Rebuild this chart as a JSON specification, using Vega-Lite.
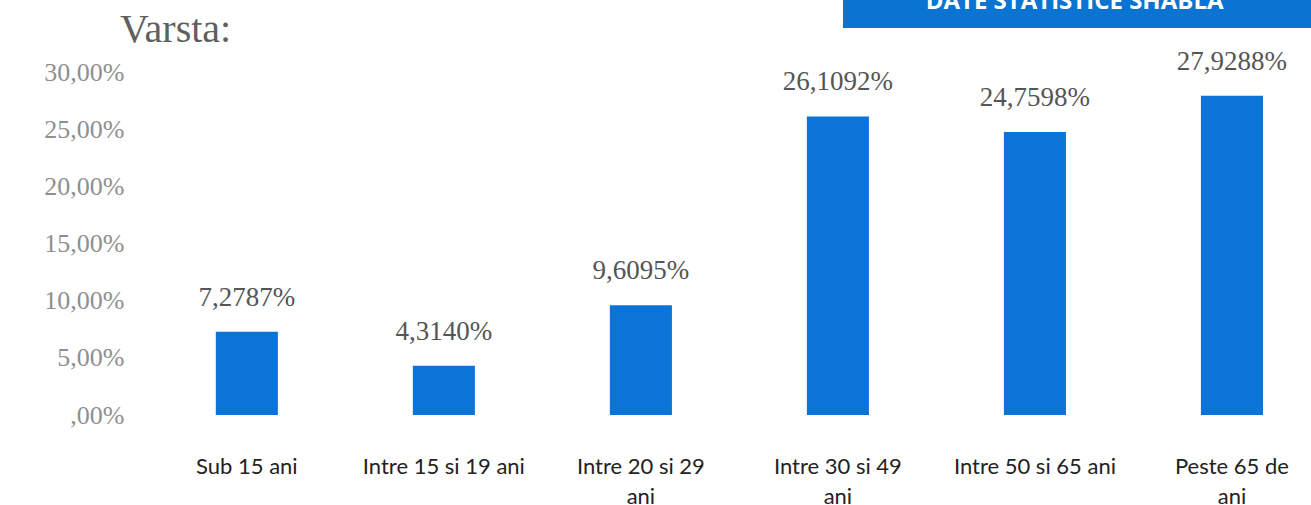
{
  "$schema": "https://vega.github.io/schema/vega-lite/v6.json",
  "width": 1150,
  "height": 343,
  "autosize": {"type": "none"},
  "padding": {"left": 150, "top": 72, "right": 11, "bottom": 90},
  "background": "white",
  "config": {
    "view": {"stroke": null},
    "locale": {"number": {"decimal": ",", "thousands": ".", "grouping": [3], "currency": ["", ""]}}
  },
  "layer": [
    {
      "data": {
        "values": [
          {"grupa": "Sub 15 ani", "procent": 0.072787},
          {"grupa": "Intre 15 si 19 ani", "procent": 0.04314},
          {"grupa": "Intre 20 si 29 ani", "procent": 0.096095},
          {"grupa": "Intre 30 si 49 ani", "procent": 0.261092},
          {"grupa": "Intre 50 si 65 ani", "procent": 0.247598},
          {"grupa": "Peste 65 de ani", "procent": 0.279288}
        ]
      },
      "encoding": {
        "x": {
          "field": "grupa",
          "type": "nominal",
          "sort": null,
          "scale": {"paddingInner": 0.685, "paddingOuter": 0.261, "align": 0.64},
          "axis": {
            "title": null,
            "labelAngle": 0,
            "domain": false,
            "ticks": false,
            "labelPadding": 41,
            "labelFont": "Lato",
            "labelFontSize": 22,
            "labelColor": "#222222",
            "labelLineHeight": 30,
            "labelExpr": "datum.label == 'Intre 20 si 29 ani' ? ['Intre 20 si 29', 'ani'] : datum.label == 'Intre 30 si 49 ani' ? ['Intre 30 si 49', 'ani'] : datum.label == 'Peste 65 de ani' ? ['Peste 65 de', 'ani'] : datum.label"
          }
        },
        "y": {
          "field": "procent",
          "type": "quantitative",
          "scale": {"domain": [0, 0.3], "nice": false},
          "axis": {
            "title": null,
            "values": [0, 0.05, 0.1, 0.15, 0.2, 0.25, 0.3],
            "format": ".2%",
            "labelExpr": "datum.value == 0 ? ',00%' : datum.label",
            "grid": false,
            "domain": false,
            "ticks": false,
            "labelPadding": 26,
            "labelFont": "Liberation Serif",
            "labelFontSize": 26,
            "labelColor": "#8f8f8f"
          }
        }
      },
      "layer": [
        {"mark": {"type": "bar", "color": "#0b74d6"}},
        {
          "mark": {"type": "text", "baseline": "bottom", "dy": -20, "font": "Liberation Serif", "fontSize": 27, "color": "#555555"},
          "encoding": {"text": {"field": "procent", "type": "quantitative", "format": ".4%"}}
        }
      ]
    },
    {
      "data": {"values": [{"eticheta": "DATE STATISTICE SHABLA", "titlu": "Varsta:"}]},
      "layer": [
        {
          "mark": {"type": "rect", "color": "#0b73d1"},
          "encoding": {
            "x": {"datum": 0.6026, "type": "quantitative", "scale": {"domain": [0, 1], "nice": false, "zero": false}, "axis": null},
            "x2": {"datum": 1.02},
            "y": {"datum": 1.128, "type": "quantitative", "scale": {"domain": [0, 1], "nice": false, "zero": false}, "axis": null},
            "y2": {"datum": 1.21}
          }
        },
        {
          "mark": {"type": "text", "baseline": "alphabetic", "align": "center", "font": "Open Sans", "fontWeight": "bold", "fontSize": 24, "color": "white"},
          "encoding": {
            "x": {"datum": 0.804, "type": "quantitative", "scale": {"domain": [0, 1], "nice": false, "zero": false}, "axis": null},
            "y": {"datum": 1.184, "type": "quantitative", "scale": {"domain": [0, 1], "nice": false, "zero": false}, "axis": null},
            "text": {"field": "eticheta"}
          }
        },
        {
          "mark": {"type": "text", "baseline": "alphabetic", "align": "left", "font": "Liberation Serif", "fontSize": 40, "color": "#5f5f5f"},
          "encoding": {
            "x": {"datum": -0.026, "type": "quantitative", "scale": {"domain": [0, 1], "nice": false, "zero": false}, "axis": null},
            "y": {"datum": 1.0875, "type": "quantitative", "scale": {"domain": [0, 1], "nice": false, "zero": false}, "axis": null},
            "text": {"field": "titlu"}
          }
        }
      ]
    }
  ],
  "resolve": {"scale": {"x": "independent", "y": "independent"}}
}
